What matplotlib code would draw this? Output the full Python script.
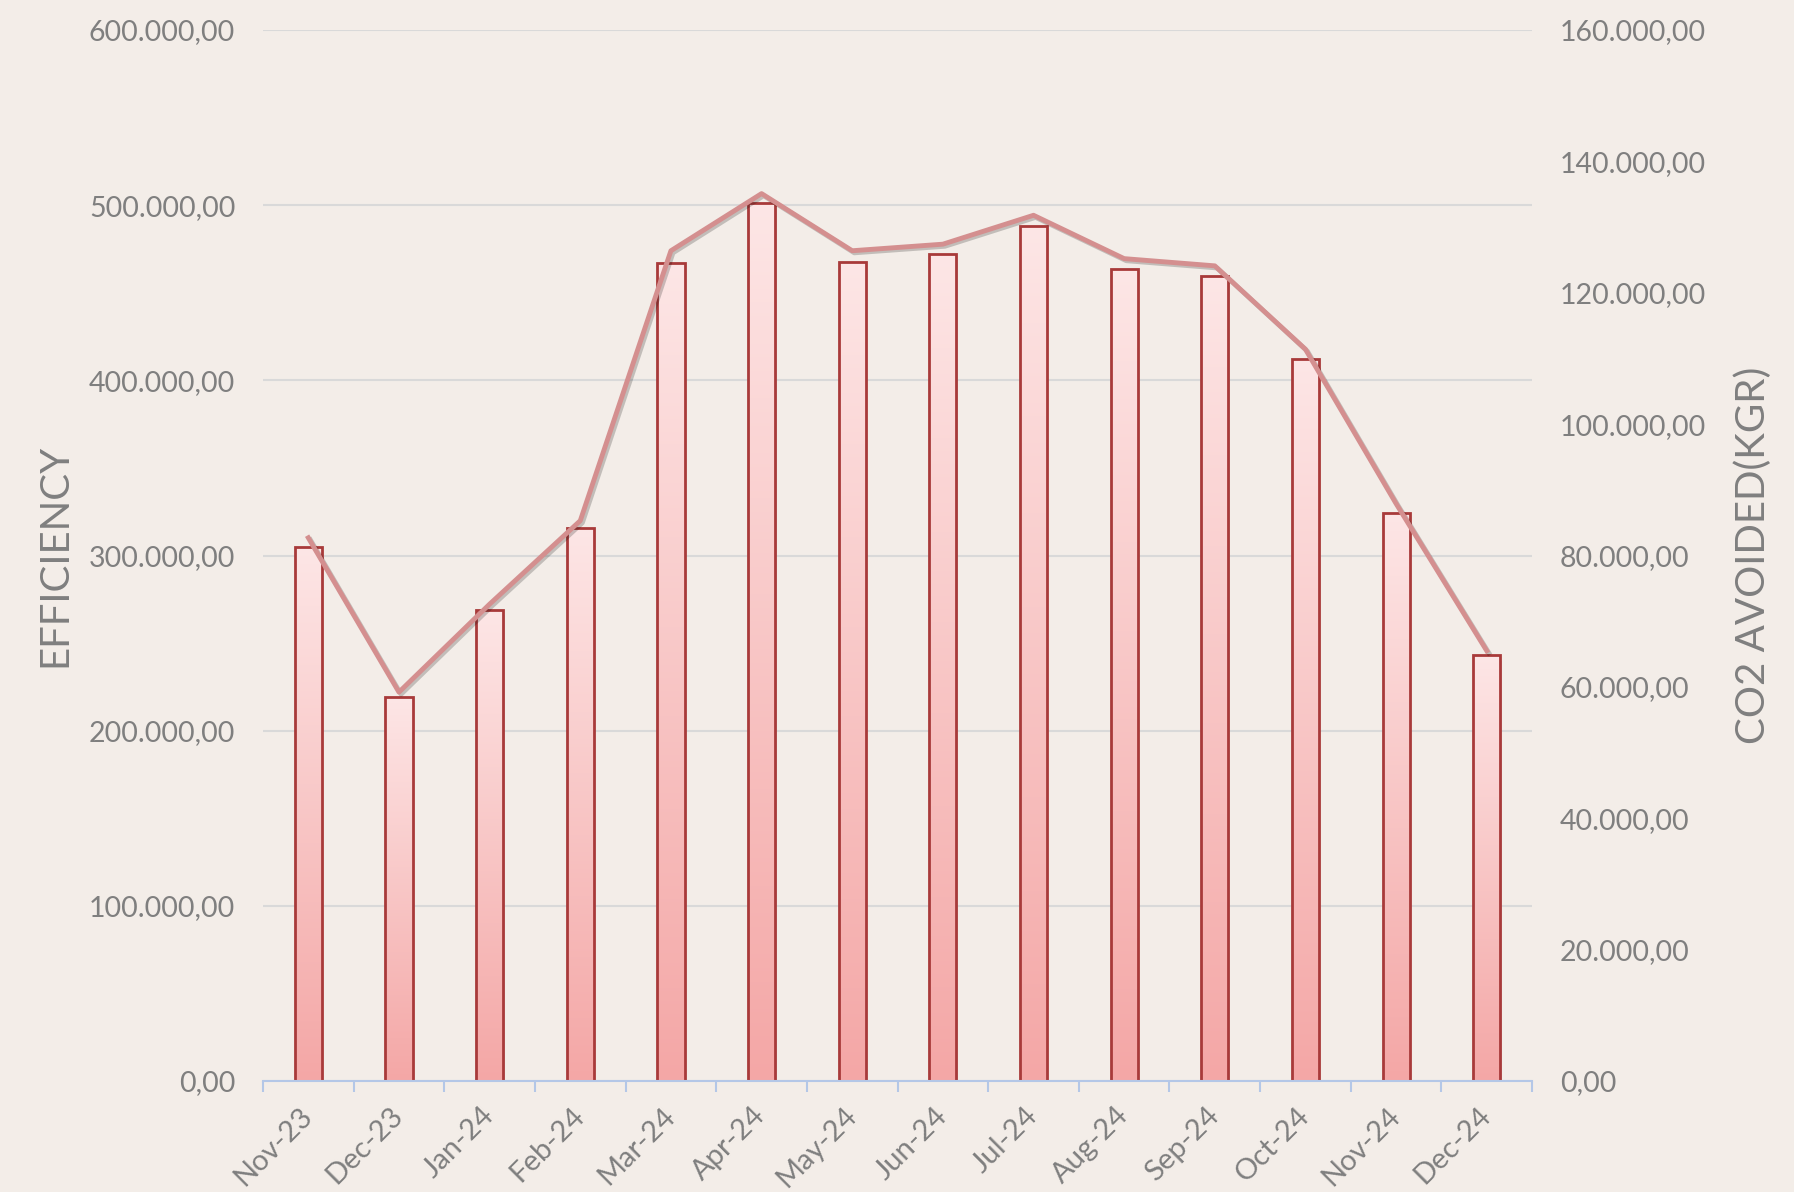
import matplotlib.pyplot as plt
import matplotlib.patheffects as pe
import numpy as np
from matplotlib.ticker import FuncFormatter, FixedLocator
from matplotlib.colors import LinearSegmentedColormap

months = ['Nov-23', 'Dec-23', 'Jan-24', 'Feb-24', 'Mar-24', 'Apr-24', 'May-24',
          'Jun-24', 'Jul-24', 'Aug-24', 'Sep-24', 'Oct-24', 'Nov-24', 'Dec-24']
efficiency = [305000, 219500, 269000, 316000, 467000, 501000, 467500,
              472000, 488000, 463500, 459500, 412000, 324500, 243000]
co2_avoided = [82700, 59200, 72600, 85300, 126400, 135100, 126400,
               127400, 131800, 125200, 124100, 111400, 87900, 65500]

bg = '#f3ede8'
txt = '#7f7f7f'
plt.rcParams['font.family'] = ['Lato', 'DejaVu Sans']


def euro_fmt(v, pos):
    s = f"{v:,.2f}"
    return s.replace(',', 'X').replace('.', ',').replace('X', '.')


fig = plt.figure(figsize=(17.94, 11.92), dpi=100, facecolor=bg)
ax = fig.add_axes([0.1466, 0.0931, 0.7074, 0.8817])
ax.set_facecolor(bg)
ax2 = ax.twinx()

x = np.arange(len(months))
bars = ax.bar(x, efficiency, width=0.3, facecolor='none', edgecolor='#a83a3a',
              linewidth=2, zorder=3)

# gradient fill inside each bar
grad = np.linspace(0, 1, 256).reshape(-1, 1)
cmap = LinearSegmentedColormap.from_list('g', ['#f4a7a6', '#fde6e6'])
for b in bars:
    bx, by = b.get_x(), b.get_y()
    w, h = b.get_width(), b.get_height()
    # soft shadow
    ax.add_patch(plt.Rectangle((bx + 0.015, by), w, h - 3000, facecolor='#b8a8a0',
                               alpha=0.35, edgecolor='none', zorder=1.5))
    im = ax.imshow(grad, extent=[bx, bx + w, by, by + h], origin='lower',
                   cmap=cmap, aspect='auto', zorder=2)
    im.set_clip_path(b)

ax.set_xlim(-0.5, len(months) - 0.5)
ax.set_ylim(0, 600000)
ax.yaxis.set_major_locator(FixedLocator(np.arange(0, 600001, 100000)))
ax.yaxis.set_major_formatter(FuncFormatter(euro_fmt))
ax.grid(axis='y', color='#d9d9d9', linewidth=1.5, zorder=0)
ax.set_axisbelow(True)

ax2.plot(x, co2_avoided, color='#d48f8f', linewidth=3.5, zorder=5,
         path_effects=[pe.SimpleLineShadow(offset=(1.5, -1.5), alpha=0.2),
                       pe.Normal()])
ax2.set_ylim(0, 160000)
ax2.yaxis.set_major_locator(FixedLocator(np.arange(0, 160001, 20000)))
ax2.yaxis.set_major_formatter(FuncFormatter(euro_fmt))

ax.set_xticks(x)
ax.set_xticklabels(months, rotation=45, ha='right', va='center',
                   rotation_mode='anchor', fontsize=21, color=txt)
ax.set_xticks(np.arange(-0.5, len(months)), minor=True)
ax.tick_params(axis='x', which='major', length=0, pad=22)
ax.tick_params(axis='x', which='minor', length=8, width=1.5, color='#b4c7e7')

ax.tick_params(axis='y', length=0, pad=20, labelsize=20.5, labelcolor=txt)
ax2.tick_params(axis='y', length=0, pad=20, labelsize=20.5, labelcolor=txt)

for a in (ax, ax2):
    for s in ('top', 'left', 'right', 'bottom'):
        a.spines[s].set_visible(False)
ax.spines['bottom'].set_visible(True)
ax.spines['bottom'].set_color('#b4c7e7')
ax.spines['bottom'].set_linewidth(1.5)
ax.spines['bottom'].set_zorder(4)

ax.set_ylabel('EFFICIENCY', fontsize=29, color=txt, labelpad=11)
ax2.set_ylabel('CO2 AVOIDED(KGR)', fontsize=29, color=txt, labelpad=20)

fig.savefig('out.png', dpi=100, facecolor=bg)
